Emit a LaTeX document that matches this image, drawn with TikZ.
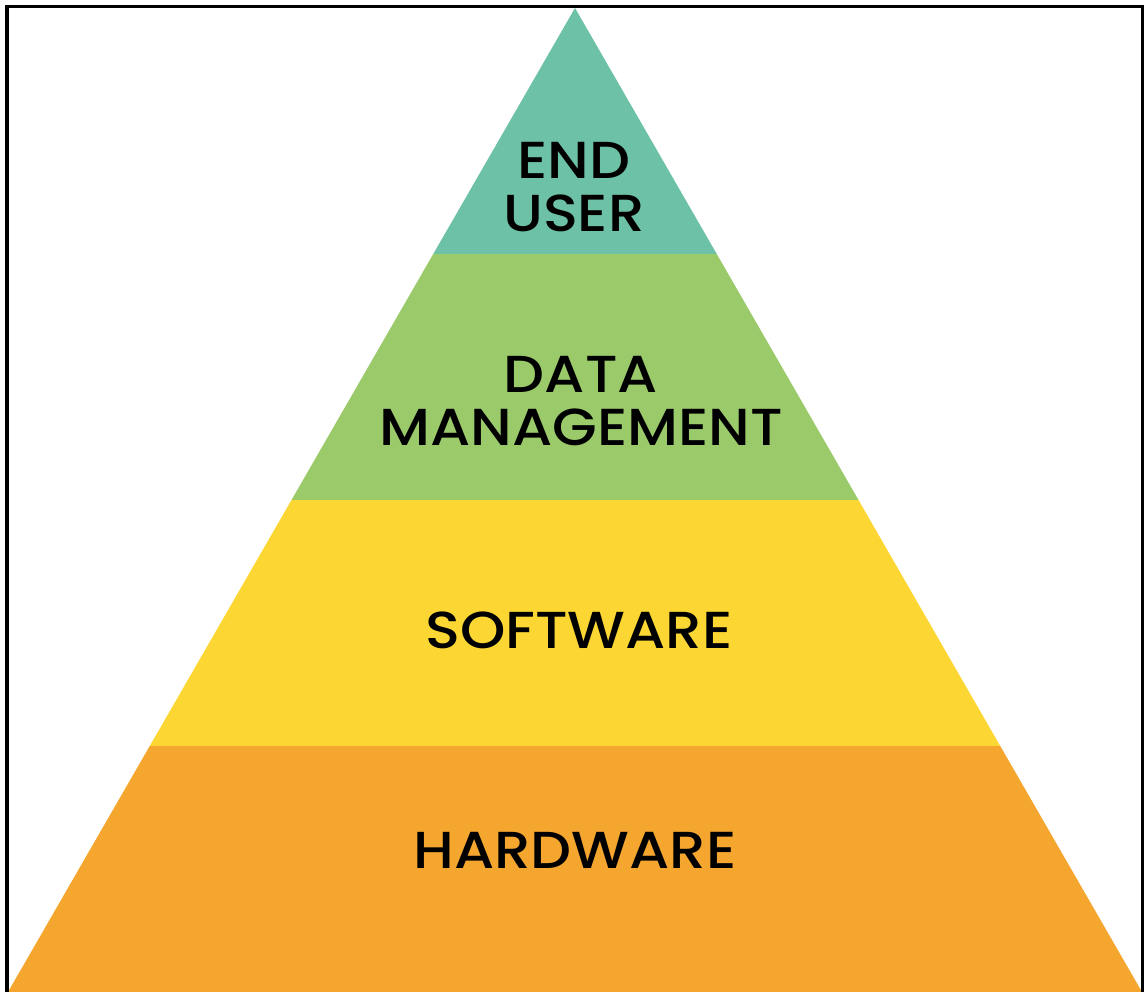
\documentclass[tikz,border=0pt]{standalone}
\usepackage{fontspec}
\newfontfamily\layerfont{Poppins Medium}[FakeStretch=1.11]
\usetikzlibrary{calc,positioning}
\definecolor{eucol}{HTML}{6CC1A6}
\definecolor{dmcol}{HTML}{9BCA6B}
\definecolor{swcol}{HTML}{FCD734}
\definecolor{hwcol}{HTML}{F5A62F}
\tikzset{layerlabel/.style={align=center,text=black,font=\layerfont\fontsize{37}{37.5}\selectfont}}

\begin{document}
\begin{tikzpicture}[x=0.025cm,y=0.025cm]
\useasboundingbox (0,0) rectangle (1147,992);
% corners of the pyramid
\coordinate (apex) at (575,984);
\coordinate (bl) at (8,0);
\coordinate (br) at (1142,0);
\foreach[count=\i] \col/\lo/\hi in {hwcol/0/0.25,swcol/0.25/0.5,dmcol/0.5/0.75,eucol/0.75/1}{ %one band per layer
\fill[\col] ($(bl)!\lo!(apex)$) -- ($(br)!\lo!(apex)$) -- ($(br)!\hi!(apex)$) -- ($(bl)!\hi!(apex)$) -- cycle;
}
\node[layerlabel] (enduser) at (574,805) {END\\USER};
\node[layerlabel] (datamgmt) at (581,591) {DATA\\MANAGEMENT};
\node[layerlabel] (software) at (579,362) {SOFTWARE};
\node[layerlabel] (hardware) at (575,142) {HARDWARE};
% outer frame, open at the bottom
\draw[line width=2.2pt] (7,-10) |- (1142.5,985.5) -- (1142.5,-10);
\end{tikzpicture}
\end{document}
